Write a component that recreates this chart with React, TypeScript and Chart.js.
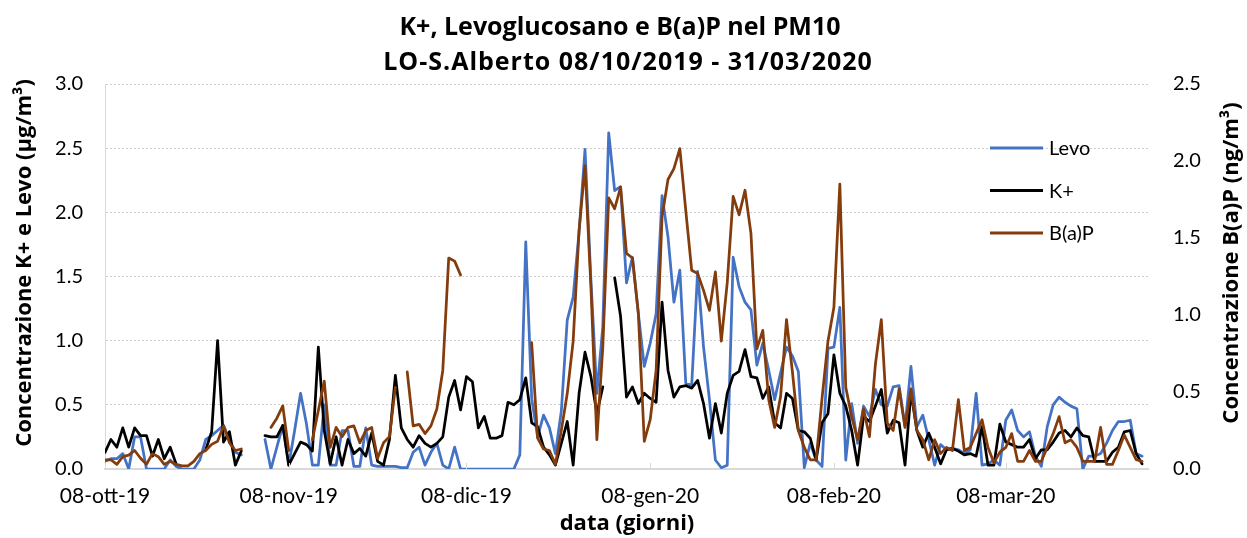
import React, { useEffect, useRef } from "react";
import { Chart, registerables } from "chart.js";

Chart.register(...registerables);

const titleLines = ["K+, Levoglucosano e B(a)P nel PM10", "LO-S.Alberto 08/10/2019 - 31/03/2020"];
const xTitle = "data (giorni)";
const yLeftTitle = "Concentrazione K+ e Levo (µg/m³)";
const yRightTitle = "Concentrazione B(a)P (ng/m³)";
const seriesNames = ["Levo", "K+", "B(a)P"];
const seriesColors = ["#4472C4", "#000000", "#843C0C"];

// day index 0 = 08-ott-19 ... 175 = 31-mar-20
const tickDays = [0, 31, 61, 92, 123, 152];
const tickLabels = ["08-ott-19", "08-nov-19", "08-dic-19", "08-gen-20", "08-feb-20", "08-mar-20"];

const levo: (number | null)[] = [
  0.06, 0.08, 0.08, 0.12, 0.0, 0.25, 0.25, 0.0, 0.0, 0.0,
  0.0, 0.07, 0.02, 0.0, 0.0, 0.0, 0.07, 0.23, 0.26, 0.3,
  0.34, 0.23, 0.13, 0.11, null, null, null, 0.23, 0.0, 0.17,
  0.34, 0.03, 0.3, 0.59, 0.35, 0.03, 0.03, 0.5, 0.03, 0.03,
  0.3, 0.3, 0.02, 0.02, 0.32, 0.03, 0.02, 0.02, 0.02, 0.02,
  0.01, 0.01, 0.13, 0.17, 0.03, 0.13, 0.2, 0.03, 0.0, 0.17,
  0.0, 0.0, 0.0, 0.0, 0.0, 0.0, 0.0, 0.0, 0.0, 0.0,
  0.11, 1.77, 0.55, 0.25, 0.42, 0.32, 0.12, 0.45, 1.16, 1.34,
  1.85, 2.49, 1.47, 0.59, 1.11, 2.62, 2.17, 2.2, 1.45, 1.65,
  1.21, 0.8, 0.98, 1.21, 2.13, 1.81, 1.3, 1.55, 0.67, 0.65,
  1.54, 0.95, 0.54, 0.07, 0.01, 0.03, 1.65, 1.42, 1.3, 1.24,
  0.81, 0.98, 0.77, 0.54, 0.75, 0.95, 0.88, 0.76, 0.01, 0.2,
  0.07, 0.02, 0.94, 0.95, 1.26, 0.07, 0.51, 0.2, 0.49, 0.41,
  0.62, 0.5, 0.49, 0.64, 0.65, 0.33, 0.8, 0.33, 0.42, 0.23,
  0.03, 0.19, 0.15, 0.16, 0.15, 0.12, 0.15, 0.59, 0.03, 0.04,
  0.07, 0.03, 0.38, 0.46, 0.3, 0.25, 0.29, 0.1, 0.02, 0.33,
  0.5, 0.56, 0.52, 0.49, 0.47, 0.0, 0.1, 0.1, 0.12, 0.2,
  0.3, 0.37, 0.37, 0.38, 0.12, 0.1,
];

const kPlus: (number | null)[] = [
  0.13, 0.23, 0.17, 0.32, 0.17, 0.32, 0.26, 0.26, 0.1, 0.23,
  0.08, 0.17, 0.04, null, null, null, null, 0.15, 0.29, 1.0,
  0.21, 0.29, 0.03, 0.14, null, null, null, 0.26, 0.25, 0.25,
  0.34, 0.03, 0.12, 0.21, 0.19, 0.14, 0.95, 0.3, 0.04, 0.25,
  0.03, 0.23, 0.12, 0.16, 0.1, 0.28, 0.06, 0.03, 0.23, 0.73,
  0.32, 0.23, 0.17, 0.26, 0.2, 0.17, 0.2, 0.25, 0.56, 0.69,
  0.46, 0.72, 0.68, 0.32, 0.41, 0.24, 0.24, 0.26, 0.52, 0.5,
  0.54, 0.71, 0.36, 0.33, 0.17, 0.11, 0.03, 0.2, 0.37, 0.03,
  0.59, 0.91, 0.72, 0.43, 0.64, null, 1.49, 1.19, 0.56, 0.64,
  0.51, 0.59, 0.55, 0.52, 1.3, 0.77, 0.56, 0.64, 0.65, 0.63,
  0.69, 0.51, 0.24, 0.51, 0.28, 0.59, 0.73, 0.76, 0.93, 0.72,
  0.71, 0.55, 0.64, 0.36, 0.32, 0.59, 0.55, 0.3, 0.29, 0.24,
  0.07, 0.36, 0.43, 0.89, 0.59, 0.49, 0.3, 0.03, 0.41, 0.37,
  0.49, 0.62, 0.28, 0.38, 0.36, 0.03, 0.6, 0.3, 0.17, 0.28,
  0.17, 0.04, 0.15, 0.16, 0.14, 0.11, 0.12, 0.1, 0.33, 0.03,
  0.03, 0.35, 0.21, 0.19, 0.17, 0.17, 0.23, 0.08, 0.15, 0.15,
  0.21, 0.28, 0.3, 0.25, 0.32, 0.26, 0.25, 0.06, 0.06, 0.06,
  0.13, 0.17, 0.29, 0.3, 0.12, 0.04,
];

const bap: (number | null)[] = [
  0.06, 0.06, 0.03, 0.08, 0.09, 0.12, 0.07, 0.03, 0.1, 0.08,
  0.03, 0.05, 0.03, 0.02, 0.02, 0.05, 0.1, 0.12, 0.16, 0.18,
  0.28, 0.17, 0.12, 0.13, null, null, null, null, 0.27, 0.33,
  0.41, 0.12, null, null, null, 0.19, 0.38, 0.57, 0.14, 0.27,
  0.21, 0.27, 0.28, 0.17, 0.25, 0.27, 0.07, 0.17, 0.21, 0.53,
  null, 0.63, 0.28, 0.29, 0.23, 0.28, 0.39, 0.64, 1.37, 1.35,
  1.26, null, null, null, null, null, null, null, null, null,
  null, null, 0.82, 0.2, 0.13, 0.12, 0.03, 0.25, 0.49, 0.83,
  1.55, 1.97, 1.18, 0.19, 0.79, 1.76, 1.69, 1.83, 1.4, 1.37,
  1.01, 0.18, 0.32, 0.64, 1.64, 1.88, 1.95, 2.08, 1.68, 1.29,
  1.27, 1.16, 1.03, 1.28, 0.83, 1.21, 1.77, 1.65, 1.81, 1.53,
  0.78, 0.9, 0.45, 0.27, 0.47, 0.97, 0.63, 0.25, 0.14, 0.06,
  0.06, 0.46, 0.83, 1.05, 1.85, 0.53, 0.34, 0.19, 0.39, 0.21,
  0.68, 0.97, 0.3, 0.25, 0.52, 0.27, 0.52, 0.25, 0.19, 0.06,
  0.19, 0.1, 0.14, 0.12, 0.45, 0.12, 0.14, 0.23, 0.32, 0.14,
  0.04, 0.11, 0.14, 0.23, 0.05, 0.05, 0.12, 0.05, 0.05, 0.14,
  0.23, 0.34, 0.17, 0.19, 0.14, 0.05, 0.05, 0.05, 0.27, 0.03,
  0.03, 0.12, 0.22, 0.14, 0.06, 0.05,
];

const FONT = "Lato, 'Open Sans', sans-serif";
const BOLD_FONT = "'Open Sans', Lato, sans-serif";

const toPoints = (arr: (number | null)[]) => arr.map((v, i) => ({ x: i, y: v }));

const overlayPlugin = {
  id: "overlay",
  afterDraw(chart: any) {
    const { ctx, chartArea, scales } = chart;
    ctx.save();
    // inside tick marks on x axis
    ctx.strokeStyle = "#d9d9d9";
    ctx.lineWidth = 1;
    tickDays.forEach((d) => {
      const x = Math.round(scales.x.getPixelForValue(d)) + 0.5;
      ctx.beginPath();
      ctx.moveTo(x, chartArea.bottom);
      ctx.lineTo(x, chartArea.bottom - 6);
      ctx.stroke();
    });
    // titles
    ctx.fillStyle = "#000";
    ctx.textAlign = "center";
    ctx.textBaseline = "middle";
    ctx.font = `bold 25px ${BOLD_FONT}`;
    ctx.fillText(titleLines[0], 620, 28);
    (ctx as any).letterSpacing = "1px";
    ctx.fillText(titleLines[1], 628, 63);
    (ctx as any).letterSpacing = "0px";
    ctx.font = `bold 22px ${BOLD_FONT}`;
    ctx.fillText(xTitle, 627, 524);
    ctx.save();
    ctx.translate(25, 263);
    ctx.rotate(-Math.PI / 2);
    ctx.fillText(yLeftTitle, 0, 0);
    ctx.restore();
    ctx.save();
    ctx.translate(1232, 263);
    ctx.rotate(-Math.PI / 2);
    ctx.fillText(yRightTitle, 0, 0);
    ctx.restore();
    // legend
    ctx.font = `20px ${FONT}`;
    ctx.textAlign = "left";
    seriesNames.forEach((name, i) => {
      const y = 148 + 42.5 * i;
      ctx.strokeStyle = seriesColors[i];
      ctx.lineWidth = 3;
      ctx.beginPath();
      ctx.moveTo(990, y);
      ctx.lineTo(1043, y);
      ctx.stroke();
      ctx.fillStyle = "#000";
      ctx.fillText(name, 1049, y + 1);
    });
    ctx.restore();
  },
};

export default function App() {
  const ref = useRef<HTMLCanvasElement | null>(null);
  useEffect(() => {
    if (!ref.current) return;
    const chart = new Chart(ref.current, {
      type: "line",
      data: {
        datasets: [
          { label: seriesNames[0], data: toPoints(levo), borderColor: seriesColors[0], backgroundColor: seriesColors[0], yAxisID: "y", order: 3 },
          { label: seriesNames[1], data: toPoints(kPlus), borderColor: seriesColors[1], backgroundColor: seriesColors[1], yAxisID: "y", order: 2 },
          { label: seriesNames[2], data: toPoints(bap), borderColor: seriesColors[2], backgroundColor: seriesColors[2], yAxisID: "y1", order: 1 },
        ] as any,
      },
      options: {
        animation: false,
        responsive: false,
        spanGaps: false,
        elements: {
          line: { borderWidth: 2.75, tension: 0, borderJoinStyle: "round", borderCapStyle: "round" },
          point: { radius: 0, hoverRadius: 0 },
        },
        layout: { padding: { top: 84, left: 0, right: 0, bottom: 0 } },
        plugins: { legend: { display: false }, title: { display: false }, tooltip: { enabled: false } },
        scales: {
          x: {
            type: "linear",
            min: 0,
            max: 176,
            afterBuildTicks: (scale: any) => {
              scale.ticks = tickDays.map((v) => ({ value: v }));
            },
            afterFit: (scale: any) => {
              scale.height = 538 - 469;
            },
            ticks: {
              autoSkip: false,
              maxRotation: 0,
              padding: 15,
              color: "#000",
              font: { family: FONT, size: 21 },
              callback: (value: any) => {
                const i = tickDays.indexOf(Number(value));
                return i >= 0 ? tickLabels[i] : "";
              },
            },
            grid: { display: true, drawOnChartArea: false, drawTicks: false, color: "rgba(0,0,0,0)" },
            border: { display: true, color: "#d9d9d9", width: 2 },
          },
          y: {
            type: "linear",
            position: "left",
            min: 0,
            max: 3,
            afterFit: (scale: any) => {
              scale.width = 105;
            },
            ticks: {
              stepSize: 0.5,
              padding: 22,
              color: "#000",
              font: { family: FONT, size: 20 },
              callback: (v: any) => Number(v).toFixed(1),
            },
            grid: { color: "#cfcfcf", lineWidth: 1, drawTicks: false },
            border: { display: true, color: "#d9d9d9", width: 1, dash: [2, 2] },
          },
          y1: {
            type: "linear",
            position: "right",
            min: 0,
            max: 2.5,
            afterFit: (scale: any) => {
              scale.width = 1247 - 1148;
            },
            ticks: {
              stepSize: 0.5,
              padding: 25,
              color: "#000",
              font: { family: FONT, size: 20 },
              callback: (v: any) => Number(v).toFixed(1),
            },
            grid: { drawOnChartArea: false, drawTicks: false },
            border: { display: false },
          },
        },
      } as any,
      plugins: [overlayPlugin],
    });
    return () => chart.destroy();
  }, []);
  return (
    <div style={{ position: "fixed", left: 0, top: 0, width: 1247, height: 538, background: "#fff" }}>
      <canvas ref={ref} width={1247} height={538} style={{ display: "block" }} />
    </div>
  );
}
